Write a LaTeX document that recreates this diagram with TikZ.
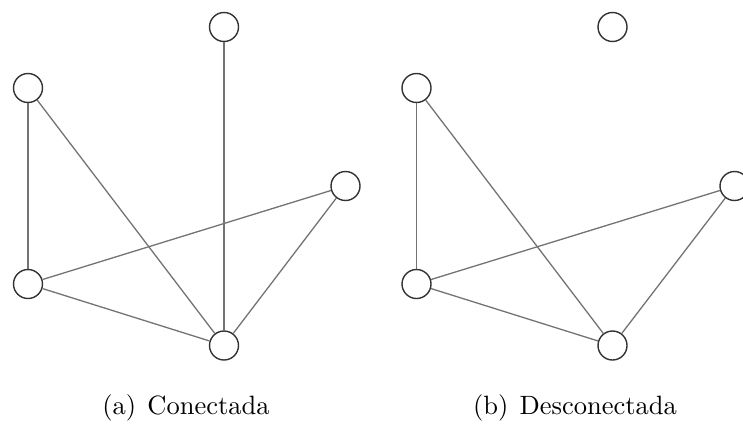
\documentclass[tikz,border=0pt]{standalone}
\begin{document}
\begin{tikzpicture}[x=1pt,y=-1pt,
  vtx/.style={circle,draw=black!80,line width=1.4pt,fill=white,minimum size=29pt,inner sep=0pt},
  edge/.style={draw=black!55,line width=1.3pt},
  captxt/.style={font=\fontsize{10}{12}\selectfont,anchor=base,scale=2.65,inner sep=0pt}]
\useasboundingbox (0,0) rectangle (743,423);
% left graph
\node[vtx] (a1) at (224,27) {};
\node[vtx] (a2) at (28,88) {};
\node[vtx] (a3) at (345.5,186) {};
\node[vtx] (a4) at (28,284) {};
\node[vtx] (a5) at (224,345.5) {};
\draw[edge] (a2) -- (a4);
\draw[edge] (a2) -- (a5);
\draw[edge] (a1) -- (a5);
\draw[edge] (a4) -- (a3);
\draw[edge] (a4) -- (a5);
\draw[edge] (a3) -- (a5);
% right graph
\node[vtx] (b1) at (612.5,27) {};
\node[vtx] (b2) at (416.5,88) {};
\node[vtx] (b3) at (734.5,186) {};
\node[vtx] (b4) at (416.5,284) {};
\node[vtx] (b5) at (612.5,345.5) {};
\draw[edge] (b2) -- (b4);
\draw[edge] (b2) -- (b5);
\draw[edge] (b4) -- (b3);
\draw[edge] (b4) -- (b5);
\draw[edge] (b3) -- (b5);
% captions
\node[captxt] (ca) at (186,414) {(a)\hspace{4.2pt}Conectada};
\node[captxt] (cb) at (575,414) {(b)\hspace{4.2pt}Desconectada};
\end{tikzpicture}
\end{document}
